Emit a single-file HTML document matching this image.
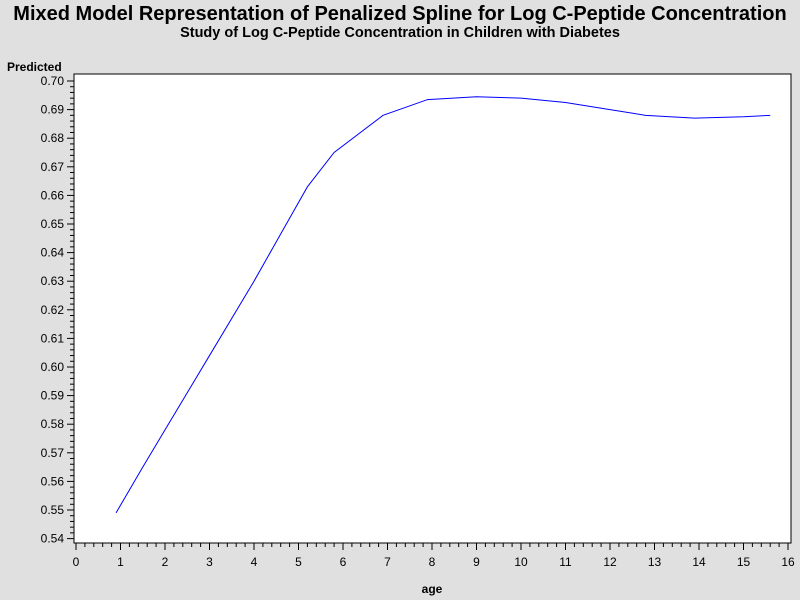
<!DOCTYPE html>
<html><head><meta charset="utf-8"><style>
body{margin:0;background:#e0e0e0;}
svg{display:block;font-family:"Liberation Sans",Arial,sans-serif;}
</style></head><body>
<svg id="c" width="800" height="600">
<rect width="800" height="600" fill="#e0e0e0"/>
<text x="400" y="20" text-anchor="middle" font-size="20" font-weight="bold">Mixed Model Representation of Penalized Spline for Log C-Peptide Concentration</text>
<text x="400" y="37" text-anchor="middle" font-size="14.5" font-weight="bold">Study of Log C-Peptide Concentration in Children with Diabetes</text>
<rect x="74" y="74" width="717" height="469" fill="#fff" stroke="#000" stroke-width="1"/>
<text x="7" y="71" font-size="12" font-weight="bold">Predicted</text>
<text x="432" y="593" text-anchor="middle" font-size="12" font-weight="bold">age</text>
<g id="ax"></g>
<path id="line" fill="none" stroke="#0000ff" stroke-width="1"/>
</svg>
<script>
const ages=[0.9,1.5,2,3,4,4.8,5.2,5.8,6.9,7.9,9,10,11,12,12.8,13.9,15,15.6];
const predicted=[0.549,0.565,0.578,0.604,0.630,0.652,0.663,0.675,0.688,0.6935,0.6945,0.694,0.6925,0.690,0.688,0.687,0.6875,0.688];
const xTicks=[0,1,2,3,4,5,6,7,8,9,10,11,12,13,14,15,16];
const yTicks=[0.54,0.55,0.56,0.57,0.58,0.59,0.60,0.61,0.62,0.63,0.64,0.65,0.66,0.67,0.68,0.69,0.70];
const NS="http://www.w3.org/2000/svg";
const X=v=>76+(v-0)*(788-76)/16;
const Y=v=>538.6+(v-0.54)*(81-538.6)/0.16;
const ax=document.getElementById('ax');
function mk(t,a,p){const e=document.createElementNS(NS,t);for(const k in a)e.setAttribute(k,a[k]);p.appendChild(e);return e;}
xTicks.forEach((t,i)=>{
 const l=mk('line',{x1:X(t),x2:X(t),y1:543,y2:550,stroke:'#000'},ax);
 
 
 const tx=mk('text',{x:X(t),y:566,'text-anchor':'middle','font-size':12},ax);tx.textContent=t;
 
 
 if(i<xTicks.length-1)for(let k=1;k<5;k++){const m=mk('line',{x1:X(t+k*0.2),x2:X(t+k*0.2),y1:543,y2:547,stroke:'#000'},ax);
 
 }
});
yTicks.forEach((t,i)=>{
 const l=mk('line',{x1:67,x2:74,y1:Y(t),y2:Y(t),stroke:'#000'},ax);
 
 
 const tx=mk('text',{x:64,y:Y(t)+4,'text-anchor':'end','font-size':12},ax);tx.textContent=t.toFixed(2);
 
 
 if(i<yTicks.length-1)for(let k=1;k<5;k++){const m=mk('line',{x1:70,x2:74,y1:Y(t+k*0.002),y2:Y(t+k*0.002),stroke:'#000'},ax);
 
 }
});
document.getElementById('line').setAttribute('d',ages.map((a,i)=>(i?'L':'M')+X(a)+','+Y(predicted[i])).join(''));
</script>
</body></html>
